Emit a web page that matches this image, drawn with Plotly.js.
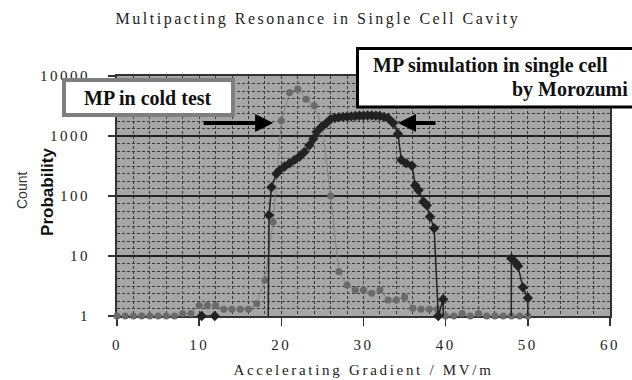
<!DOCTYPE html>
<html>
<head>
<meta charset="utf-8">
<script src="https://cdn.plot.ly/plotly-3.0.1.min.js"></script>
<style>
  html, body { margin: 0; padding: 0; background: #fff; }
  #chart { width: 632px; height: 380px; }
  #chart .xtick text, #chart .ytick text { letter-spacing: 2.5px; }
  #chart .gtitle { letter-spacing: 2.5px; }
  #chart .xtitle { letter-spacing: 2.7px; }
</style>
</head>
<body>
<div id="chart"></div>
<script>
// Cold test: count per accelerating gradient step (MV/m)
const coldGradient = [0, 1, 2, 3, 4, 5, 6, 7, 8, 9,
  10, 11, 12, 13, 14, 15, 16, 17, 18, 19,
  20, 21, 22, 23, 24, 25, 26, 27, 28, 29,
  30, 31, 32, 33, 34, 35, 36, 37, 38, 39,
  40, 41, 42, 43, 44, 45, 46, 47, 48, 49, 50];
const coldCount = [1, 1, 1, 1, 1, 1, 1, 1, 1.1, 1.1,
  1.5, 1.5, 1.5, 1.3, 1.3, 1.3, 1.3, 1.6, 4, 37,
  1800, 5300, 6100, 4100, 3200, 1400, 100, 5.5, 3.3, 2.7,
  2.7, 2.4, 2.7, 1.85, 1.85, 2.05, 1.35, 1.3, 1.3, 1.3,
  1, 1, 1.1, 1, 1.1, 1, 1, 1, 1, 1, 1];

// Simulation (Morozumi): probability vs gradient; 0.01 marks values below the axis floor
const simGradient = [10.0, 10.3, 11.9, 12.2,
  18.3, 18.5, 18.8, 19.4, 19.8, 20.4, 21.0, 21.6, 22.2, 22.8, 23.4, 23.9, 24.3, 24.9,
  25.5, 26.0, 26.5, 27.0, 27.5, 28.0, 28.5, 29.0, 29.5, 30.0, 30.5, 31.0, 31.5, 32.0,
  32.5, 33.0, 33.6, 34.2, 34.6, 35.2, 35.9, 36.3, 36.7, 37.3, 37.7, 38.1, 38.6,
  39.1, 39.7, 39.75,
  47.95, 48.0, 48.6, 48.8, 49.4, 50.0, 50.05];
const simProb = [0.01, 1, 1, 0.01,
  0.01, 48, 140, 235, 270, 310, 350, 400, 450, 540, 700, 900, 1170, 1430,
  1650, 1900, 2000, 2050, 2080, 2100, 2120, 2150, 2170, 2180, 2200, 2200, 2180, 2150,
  2080, 1980, 1650, 1080, 400, 350, 320, 150, 125, 80, 70, 45, 29,
  1, 1.9, 0.01,
  0.01, 9.1, 7.5, 6.8, 3.0, 2.0, 0.01];

const xTickVals = [0, 10, 20, 30, 40, 50, 60];
const yTickVals = [1, 10, 100, 1000, 10000];
const yTickText = ['1', '10', '100', '1000', '10000'];

const serif = 'Liberation Serif, Times New Roman, serif';
const sans = 'Liberation Sans, Arial, sans-serif';
const gridDash = '3px,2px';

const traces = [
  {
    x: coldGradient, y: coldCount, name: 'MP in cold test',
    type: 'scatter', mode: 'lines+markers', cliponaxis: false,
    line: { color: '#828282', width: 1 },
    marker: { symbol: 'circle', size: 7, color: '#6a6a6a' }
  },
  {
    x: simGradient, y: simProb, name: 'MP simulation in single cell',
    type: 'scatter', mode: 'lines+markers', cliponaxis: false,
    line: { color: '#222', width: 1.5 },
    marker: { symbol: 'diamond', size: 8, color: '#222' }
  }
];

const layout = {
  width: 632, height: 380,
  margin: { l: 117, r: 22, t: 76, b: 64 },
  paper_bgcolor: '#ffffff',
  plot_bgcolor: '#a6a6a6',
  showlegend: false,
  title: {
    text: 'Multipacting Resonance in Single Cell Cavity',
    font: { family: serif, size: 16, color: '#222' },
    x: 0.503, xanchor: 'center', y: 0.952, yanchor: 'middle'
  },
  xaxis: {
    range: [0, 60], tickvals: xTickVals,
    ticks: 'outside', ticklen: 8, tickwidth: 1.5, tickcolor: '#333',
    showline: true, linecolor: '#333', linewidth: 2, mirror: true,
    showgrid: true, gridcolor: '#3a3a3a', gridwidth: 1, griddash: gridDash,
    minor: { dtick: 2, showgrid: true, gridcolor: '#3a3a3a', gridwidth: 1, griddash: gridDash },
    zeroline: false, layer: 'below traces',
    tickfont: { family: serif, size: 15, color: '#222' },
    ticklabelstandoff: 6,
    title: { text: 'Accelerating Gradient / MV/m', font: { family: serif, size: 15, color: '#222' }, standoff: 12 },
    automargin: false
  },
  yaxis: {
    type: 'log', range: [0, 4], tickvals: yTickVals, ticktext: yTickText,
    ticks: 'outside', ticklen: 7, tickwidth: 1.5, tickcolor: '#333',
    showline: true, linecolor: '#333', linewidth: 2, mirror: true,
    showgrid: true, gridcolor: '#222', gridwidth: 1.5,
    minor: { dtick: 0.125, showgrid: true, gridcolor: '#3a3a3a', gridwidth: 1, griddash: gridDash },
    zeroline: false, layer: 'below traces',
    tickfont: { family: serif, size: 15, color: '#222' },
    ticklabelstandoff: 15,
    automargin: false
  },
  shapes: [
    { type: 'rect', xref: 'paper', yref: 'paper', layer: 'above',
      x0: -0.1075, x1: 0.2353, y0: 0.8375, y1: 0.983,
      fillcolor: '#ffffff', line: { color: '#7f7f7f', width: 4 } },
    { type: 'rect', xref: 'paper', yref: 'paper', layer: 'above',
      x0: 0.4878, x1: 1.1, y0: 0.8708, y1: 1.1146,
      fillcolor: '#ffffff', line: { color: '#000000', width: 3 } }
  ],
  annotations: [
    { text: 'MP in cold test', xref: 'paper', yref: 'paper', x: 0.0619, y: 0.910,
      xanchor: 'center', yanchor: 'middle', showarrow: false,
      font: { family: serif, size: 20, color: '#111', weight: 'bold' } },
    { text: 'MP simulation in single cell', xref: 'paper', yref: 'paper', x: 0.5152, y: 1.0417,
      xanchor: 'left', yanchor: 'middle', showarrow: false,
      font: { family: serif, size: 20, color: '#111', weight: 'bold' } },
    { text: 'by Morozumi', xref: 'paper', yref: 'paper', x: 1.0406, y: 0.9458,
      xanchor: 'right', yanchor: 'middle', showarrow: false,
      font: { family: serif, size: 20, color: '#111', weight: 'bold' } },
    { text: '', xref: 'x', yref: 'y', x: 19.0, y: 3.2167, ax: -71, ay: 0,
      showarrow: true, arrowhead: 2, arrowsize: 0.9, arrowwidth: 4, arrowcolor: '#000' },
    { text: '', xref: 'x', yref: 'y', x: 34.2, y: 3.2167, ax: 39, ay: 0,
      showarrow: true, arrowhead: 2, arrowsize: 0.9, arrowwidth: 4, arrowcolor: '#000' },
    { text: 'Count', xref: 'paper', yref: 'paper', x: -0.1927, y: 0.525,
      xanchor: 'center', yanchor: 'middle', textangle: -90, showarrow: false,
      font: { family: sans, size: 14, color: '#333' } },
    { text: 'Probability', xref: 'paper', yref: 'paper', x: -0.14, y: 0.517,
      xanchor: 'center', yanchor: 'middle', textangle: -90, showarrow: false,
      font: { family: sans, size: 17, color: '#111', weight: 'bold' } }
  ]
};

Plotly.newPlot('chart', traces, layout, { displayModeBar: false, staticPlot: true });
</script>
</body>
</html>
